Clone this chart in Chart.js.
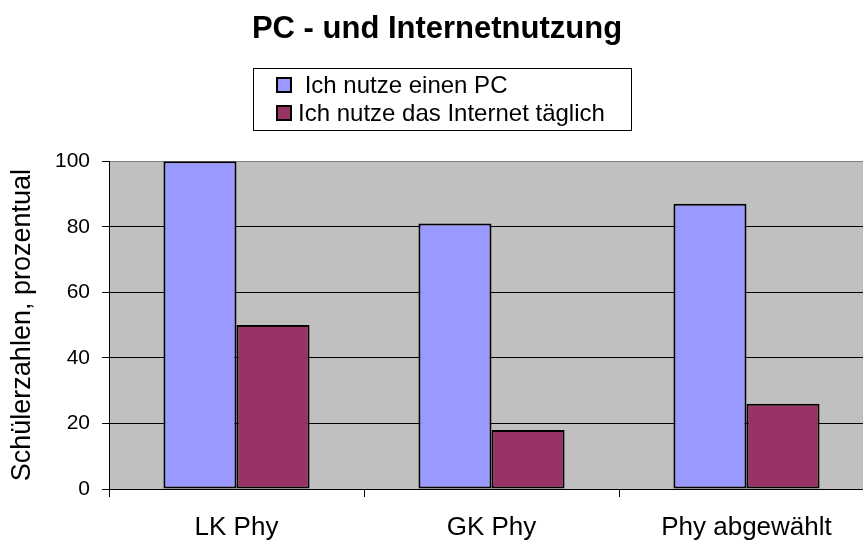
<!DOCTYPE html>
<html>
<head>
<meta charset="utf-8">
<script src="https://cdn.jsdelivr.net/npm/chart.js@4.4.1/dist/chart.umd.min.js"></script>
<style>
    html, body { margin: 0; padding: 0; overflow: hidden; background: #fff; }
    #wrap { width: 874px; height: 541px; }
</style>
</head>
<body>
<div id="wrap"><canvas id="pcChart" width="874" height="541"></canvas></div>
<script>
const categories = ['LK Phy', 'GK Phy', 'Phy abgewählt'];
const pcUsers = [100, 81, 87];
const dailyInternet = [50, 18, 26];
const seriesNames = [' Ich nutze einen PC', 'Ich nutze das Internet täglich'];
const seriesColors = ['#9999FF', '#993366'];
const chartTitle = 'PC - und Internetnutzung';
const yTitle = 'Schülerzahlen, prozentual';

const FONT = "'Liberation Sans', Arial, sans-serif";

// grey plot area like the old spreadsheet charts
const plotBackground = {
    id: 'plotBackground',
    beforeDraw(chart) {
        const { ctx, chartArea } = chart;
        ctx.save();
        ctx.fillStyle = '#C0C0C0';
        ctx.fillRect(chartArea.left, chartArea.top, chartArea.right - chartArea.left, chartArea.bottom - chartArea.top);
        ctx.restore();
    }
};

// legend with a frame around it, items stacked
const boxedLegend = {
    id: 'boxedLegend',
    afterDraw(chart) {
        const ctx = chart.ctx;
        const box = { x: 253, y: 68, w: 378, h: 62 };
        ctx.save();
        ctx.fillStyle = '#fff';
        ctx.fillRect(box.x, box.y, box.w, box.h);
        ctx.strokeStyle = '#000';
        ctx.lineWidth = 1;
        ctx.strokeRect(box.x + 0.5, box.y + 0.5, box.w, box.h);
        ctx.font = '24px ' + FONT;
        ctx.textBaseline = 'middle';
        chart.data.datasets.forEach((ds, i) => {
            const cy = box.y + 17 + i * 28;
            ctx.fillStyle = ds.backgroundColor;
            ctx.fillRect(277, cy - 7, 14, 14);
            ctx.lineWidth = 2;
            ctx.strokeStyle = '#000';
            ctx.strokeRect(277, cy - 7, 14, 14);
            ctx.fillStyle = '#000';
            ctx.fillText(ds.label, 298, cy + 1);
        });
        ctx.restore();
    }
};

new Chart(document.getElementById('pcChart'), {
    type: 'bar',
    data: {
        labels: categories,
        datasets: [
            {
                label: seriesNames[0],
                data: pcUsers,
                backgroundColor: seriesColors[0],
                borderColor: '#000',
                borderWidth: 2,
                borderSkipped: false,
            },
            {
                label: seriesNames[1],
                data: dailyInternet,
                backgroundColor: seriesColors[1],
                borderColor: '#000',
                borderWidth: 2,
                borderSkipped: false,
            }
        ]
    },
    options: {
        responsive: false,
        animation: false,
        categoryPercentage: 0.573,
        barPercentage: 1,
        layout: { padding: 0 },
        plugins: {
            legend: { display: false },
            tooltip: { enabled: false },
            title: {
                display: true,
                text: chartTitle,
                color: '#000',
                font: { family: FONT, size: 31, weight: 'bold' },
                padding: { top: 11, bottom: 113 }
            }
        },
        scales: {
            x: {
                afterFit(scale) { scale.height = 52; },
                grid: {
                    drawOnChartArea: false,
                    tickLength: 8,
                    tickColor: '#000',
                    offset: true
                },
                border: { color: '#000', width: 1 },
                ticks: {
                    color: '#000',
                    font: { family: FONT, size: 26 },
                    padding: 15
                }
            },
            y: {
                min: 0,
                max: 100,
                afterFit(scale) { scale.width = 109; },
                grid: {
                    color: (c) => c.tick && c.tick.value === 100 ? '#808080' : '#000',
                    tickColor: '#000',
                    tickLength: 7
                },
                border: { color: '#000', width: 1 },
                ticks: {
                    stepSize: 20,
                    color: '#000',
                    font: { family: FONT, size: 21 },
                    padding: 12
                },
                title: {
                    display: true,
                    text: yTitle,
                    color: '#000',
                    font: { family: FONT, size: 27 },
                    padding: { top: 6, bottom: 0 }
                }
            }
        }
    },
    plugins: [plotBackground, boxedLegend]
});
</script>
</body>
</html>
